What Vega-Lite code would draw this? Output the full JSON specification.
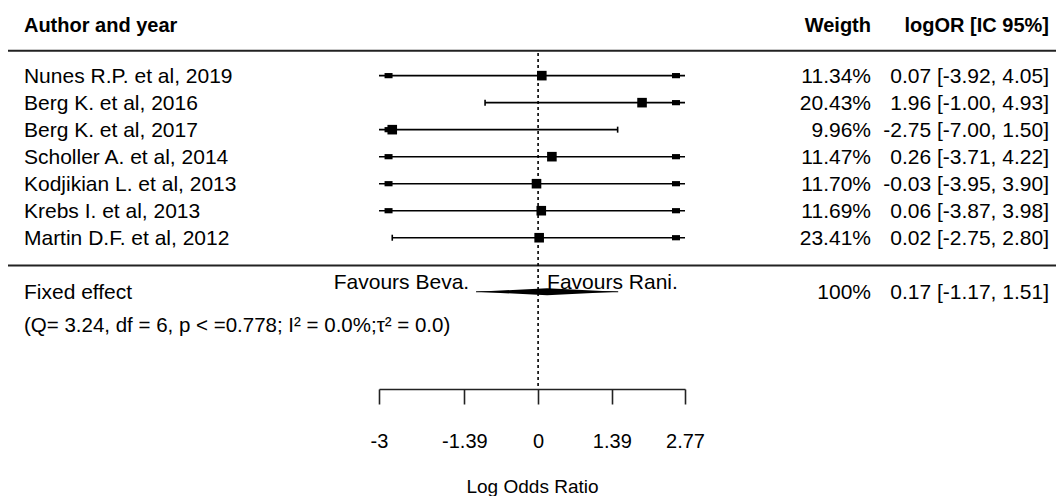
{
  "$schema": "https://vega.github.io/schema/vega-lite/v6.json",
  "padding": {"left": 7, "top": 0, "right": 0, "bottom": 0},
  "background": "white",
  "spacing": 0,
  "bounds": "flush",
  "config": {
    "view": {"stroke": null},
    "font": "Liberation Sans",
    "text": {"fontSize": 21, "color": "black", "font": "Liberation Sans"}
  },
  "datasets": {
    "studies": [
      {"study": "Nunes R.P. et al, 2019", "row": 1, "w": 0.1134, "est": 0.07, "lower": -3.92, "upper": 4.05, "ci": "0.07 [-3.92, 4.05]"},
      {"study": "Berg K. et al, 2016", "row": 2, "w": 0.2043, "est": 1.96, "lower": -1.00, "upper": 4.93, "ci": "1.96 [-1.00, 4.93]"},
      {"study": "Berg K. et al, 2017", "row": 3, "w": 0.0996, "est": -2.75, "lower": -7.00, "upper": 1.50, "ci": "-2.75 [-7.00, 1.50]"},
      {"study": "Scholler A. et al, 2014", "row": 4, "w": 0.1147, "est": 0.26, "lower": -3.71, "upper": 4.22, "ci": "0.26 [-3.71, 4.22]"},
      {"study": "Kodjikian L. et al, 2013", "row": 5, "w": 0.1170, "est": -0.03, "lower": -3.95, "upper": 3.90, "ci": "-0.03 [-3.95, 3.90]"},
      {"study": "Krebs I. et al, 2013", "row": 6, "w": 0.1169, "est": 0.06, "lower": -3.87, "upper": 3.98, "ci": "0.06 [-3.87, 3.98]"},
      {"study": "Martin D.F. et al, 2012", "row": 7, "w": 0.2341, "est": 0.02, "lower": -2.75, "upper": 2.80, "ci": "0.02 [-2.75, 2.80]"}
    ],
    "pooled": [
      {"label": "Fixed effect", "stats": "(Q= 3.24, df = 6, p < =0.778; I² = 0.0%;τ² = 0.0)", "row": 9, "w": 1, "est": 0.17, "lower": -1.17, "upper": 1.51, "ci": "0.17 [-1.17, 1.51]"}
    ]
  },
  "hconcat": [
    {
      "width": 371,
      "height": 389,
      "layer": [
        {
          "data": {"values": [{}]},
          "mark": {"type": "rule", "strokeWidth": 2, "color": "#222"},
          "encoding": {"y": {"datum": 0.08, "type": "quantitative", "scale": {"domain": [-1.8, 12.6], "reverse": true, "nice": false, "zero": false}, "axis": null}}
        },
        {
          "data": {"values": [{}]},
          "mark": {"type": "rule", "strokeWidth": 2, "color": "#222"},
          "encoding": {"y": {"datum": 8.03, "type": "quantitative", "axis": null}}
        },
        {
          "data": {"values": [{}]},
          "mark": {"type": "text", "text": "Author and year", "fontWeight": "bold", "fontSize": 20, "align": "left", "baseline": "middle"},
          "encoding": {
            "x": {"datum": 4.3, "type": "quantitative", "scale": {"domain": [0, 100], "nice": false, "zero": false}, "axis": null},
            "y": {"datum": -0.85, "type": "quantitative", "axis": null}
          }
        },
        {
          "data": {"name": "studies"},
          "mark": {"type": "text", "align": "left", "baseline": "middle", "dy": 1},
          "encoding": {
            "x": {"datum": 4.3, "type": "quantitative", "axis": null},
            "y": {"field": "row", "type": "quantitative", "axis": null},
            "text": {"field": "study"}
          }
        },
        {
          "data": {"name": "pooled"},
          "mark": {"type": "text", "align": "left", "baseline": "middle", "dy": 1},
          "encoding": {
            "x": {"datum": 4.3, "type": "quantitative", "axis": null},
            "y": {"field": "row", "type": "quantitative", "axis": null},
            "text": {"field": "label"}
          }
        },
        {
          "data": {"name": "pooled"},
          "mark": {"type": "text", "align": "left", "baseline": "middle", "dy": 34, "fontSize": 20.5},
          "encoding": {
            "x": {"datum": 4.3, "type": "quantitative", "axis": null},
            "y": {"field": "row", "type": "quantitative", "axis": null},
            "text": {"field": "stats"}
          }
        }
      ]
    },
    {
      "width": 306,
      "height": 389,
      "layer": [
        {
          "data": {"name": "studies"},
          "mark": {"type": "rule", "strokeWidth": 1.6, "color": "black"},
          "encoding": {
            "x": {
              "field": "lower", "type": "quantitative",
              "scale": {"domain": [-3, 2.77], "clamp": true, "nice": false, "zero": false},
              "axis": {
                "values": [-3, -1.39, 0, 1.39, 2.77],
                "labelExpr": "'' + datum.value",
                "labelFlush": false,
                "labelOverlap": false,
                "title": "Log Odds Ratio",
                "grid": false,
                "domainColor": "#222", "domainWidth": 1.6,
                "tickColor": "#222", "tickWidth": 1.6, "tickSize": 15,
                "labelFont": "Liberation Sans", "labelFontSize": 20, "labelColor": "black", "labelPadding": 27,
                "titleFont": "Liberation Sans", "titleFontSize": 19, "titleFontWeight": "normal", "titleColor": "black", "titlePadding": 26
              }
            },
            "x2": {"field": "upper"},
            "y": {"field": "row", "type": "quantitative", "scale": {"domain": [-1.8, 12.6], "reverse": true, "nice": false, "zero": false}, "axis": null}
          }
        },
        {
          "data": {"values": [{}]},
          "mark": {"type": "rule", "strokeWidth": 2, "color": "#222"},
          "encoding": {"y": {"datum": 0.08, "type": "quantitative", "axis": null}}
        },
        {
          "data": {"values": [{}]},
          "mark": {"type": "rule", "strokeWidth": 2, "color": "#222"},
          "encoding": {"y": {"datum": 8.03, "type": "quantitative", "axis": null}}
        },
        {
          "data": {"values": [{}]},
          "mark": {"type": "rule", "strokeWidth": 1.6, "color": "black", "strokeDash": [3, 3]},
          "encoding": {
            "x": {"datum": 0, "type": "quantitative"},
            "y": {"datum": 0.16, "type": "quantitative", "axis": null},
            "y2": {"datum": 12.6}
          }
        },
        {
          "data": {"name": "studies"},
          "transform": [{"filter": "datum.lower < -3"}],
          "mark": {"type": "point", "shape": "M-1,-0.65L1,-0.65L1,0.65L-1,0.65Z", "size": 64, "filled": true, "color": "black", "opacity": 1},
          "encoding": {
            "x": {"datum": -2.82, "type": "quantitative"},
            "y": {"field": "row", "type": "quantitative", "axis": null}
          }
        },
        {
          "data": {"name": "studies"},
          "transform": [{"filter": "datum.upper > 2.77"}],
          "mark": {"type": "point", "shape": "M-1,-0.65L1,-0.65L1,0.65L-1,0.65Z", "size": 64, "filled": true, "color": "black", "opacity": 1},
          "encoding": {
            "x": {"datum": 2.6, "type": "quantitative"},
            "y": {"field": "row", "type": "quantitative", "axis": null}
          }
        },
        {
          "data": {"name": "studies"},
          "transform": [{"filter": "datum.lower >= -3"}],
          "mark": {"type": "tick", "orient": "vertical", "size": 6, "thickness": 1.6, "color": "black", "opacity": 1},
          "encoding": {
            "x": {"field": "lower", "type": "quantitative"},
            "y": {"field": "row", "type": "quantitative", "axis": null}
          }
        },
        {
          "data": {"name": "studies"},
          "transform": [{"filter": "datum.upper <= 2.77"}],
          "mark": {"type": "tick", "orient": "vertical", "size": 6, "thickness": 1.6, "color": "black", "opacity": 1},
          "encoding": {
            "x": {"field": "upper", "type": "quantitative"},
            "y": {"field": "row", "type": "quantitative", "axis": null}
          }
        },
        {
          "data": {"name": "studies"},
          "mark": {"type": "point", "shape": "square", "size": 92, "filled": true, "color": "black", "opacity": 1},
          "encoding": {
            "x": {"field": "est", "type": "quantitative"},
            "y": {"field": "row", "type": "quantitative", "axis": null}
          }
        },
        {
          "data": {"name": "pooled"},
          "mark": {"type": "rule", "strokeWidth": 1.2, "color": "black"},
          "encoding": {
            "x": {"field": "lower", "type": "quantitative"},
            "x2": {"field": "upper"},
            "y": {"field": "row", "type": "quantitative", "axis": null}
          }
        },
        {
          "data": {"name": "pooled"},
          "mark": {"type": "point", "shape": "M-1,0L0,-0.05L1,0L0,0.05Z", "size": 19881, "filled": true, "color": "black", "opacity": 1},
          "encoding": {
            "x": {"field": "est", "type": "quantitative"},
            "y": {"field": "row", "type": "quantitative", "axis": null}
          }
        },
        {
          "data": {"values": [{}]},
          "mark": {"type": "text", "text": "Favours Beva.", "align": "right", "baseline": "alphabetic"},
          "encoding": {
            "x": {"datum": -1.3, "type": "quantitative"},
            "y": {"datum": 8.89, "type": "quantitative", "axis": null}
          }
        },
        {
          "data": {"values": [{}]},
          "mark": {"type": "text", "text": "Favours Rani.", "align": "left", "baseline": "alphabetic"},
          "encoding": {
            "x": {"datum": 0.17, "type": "quantitative"},
            "y": {"datum": 8.89, "type": "quantitative", "axis": null}
          }
        }
      ]
    },
    {
      "width": 372,
      "height": 389,
      "layer": [
        {
          "data": {"values": [{}]},
          "mark": {"type": "rule", "strokeWidth": 2, "color": "#222"},
          "encoding": {"y": {"datum": 0.08, "type": "quantitative", "scale": {"domain": [-1.8, 12.6], "reverse": true, "nice": false, "zero": false}, "axis": null}}
        },
        {
          "data": {"values": [{}]},
          "mark": {"type": "rule", "strokeWidth": 2, "color": "#222"},
          "encoding": {"y": {"datum": 8.03, "type": "quantitative", "axis": null}}
        },
        {
          "data": {"values": [{}]},
          "mark": {"type": "text", "text": "Weigth", "fontWeight": "bold", "fontSize": 20, "align": "right", "baseline": "middle"},
          "encoding": {
            "x": {"datum": 50, "type": "quantitative", "scale": {"domain": [0, 100], "nice": false, "zero": false}, "axis": null},
            "y": {"datum": -0.85, "type": "quantitative", "axis": null}
          }
        },
        {
          "data": {"values": [{}]},
          "mark": {"type": "text", "text": "logOR [IC 95%]", "fontWeight": "bold", "fontSize": 20, "align": "right", "baseline": "middle"},
          "encoding": {
            "x": {"datum": 97.85, "type": "quantitative", "axis": null},
            "y": {"datum": -0.85, "type": "quantitative", "axis": null}
          }
        },
        {
          "data": {"name": "studies"},
          "mark": {"type": "text", "align": "right", "baseline": "middle", "dy": 1},
          "encoding": {
            "x": {"datum": 50, "type": "quantitative", "axis": null},
            "y": {"field": "row", "type": "quantitative", "axis": null},
            "text": {"field": "w", "type": "quantitative", "format": ".2%"}
          }
        },
        {
          "data": {"name": "studies"},
          "mark": {"type": "text", "align": "right", "baseline": "middle", "dy": 1},
          "encoding": {
            "x": {"datum": 97.85, "type": "quantitative", "axis": null},
            "y": {"field": "row", "type": "quantitative", "axis": null},
            "text": {"field": "ci"}
          }
        },
        {
          "data": {"name": "pooled"},
          "mark": {"type": "text", "align": "right", "baseline": "middle", "dy": 1},
          "encoding": {
            "x": {"datum": 50, "type": "quantitative", "axis": null},
            "y": {"field": "row", "type": "quantitative", "axis": null},
            "text": {"field": "w", "type": "quantitative", "format": ".0%"}
          }
        },
        {
          "data": {"name": "pooled"},
          "mark": {"type": "text", "align": "right", "baseline": "middle", "dy": 1},
          "encoding": {
            "x": {"datum": 97.85, "type": "quantitative", "axis": null},
            "y": {"field": "row", "type": "quantitative", "axis": null},
            "text": {"field": "ci"}
          }
        }
      ]
    }
  ]
}
